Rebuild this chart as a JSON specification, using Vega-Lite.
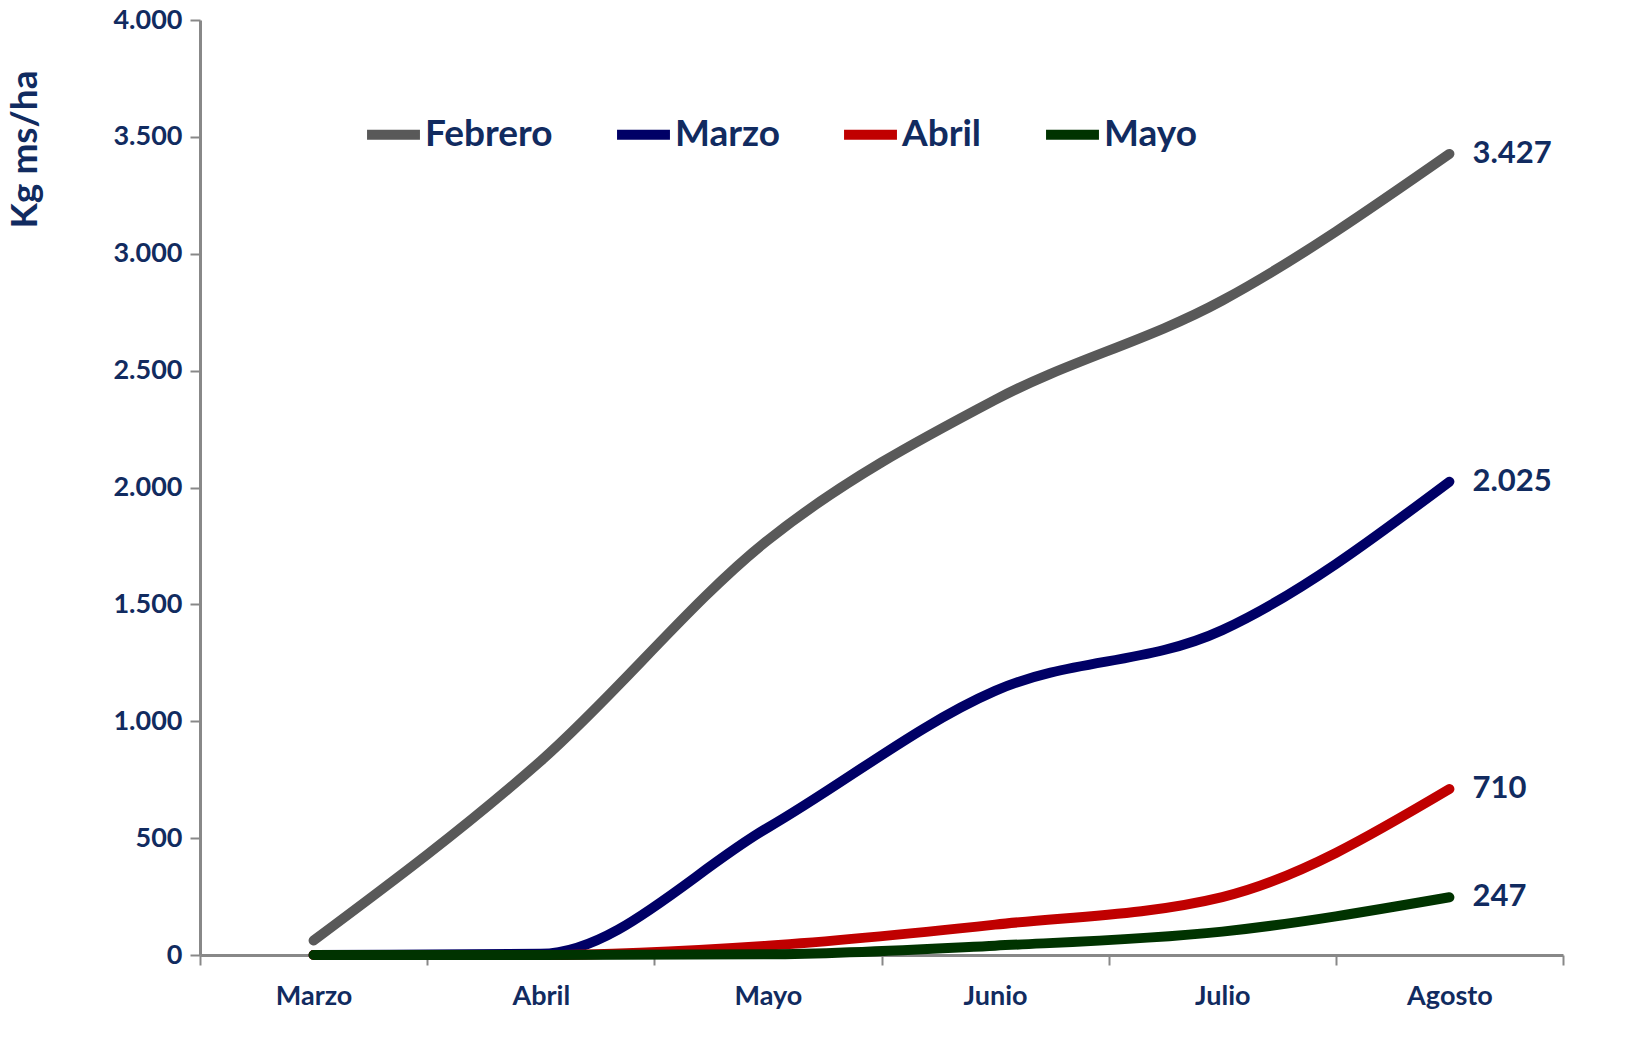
{
  "$schema": "https://vega.github.io/schema/vega-lite/v6.json",
  "width": 1363,
  "height": 935,
  "autosize": "none",
  "padding": {"left": 200, "top": 20, "right": 89, "bottom": 108},
  "background": "white",
  "data": {
    "values": [
      {"serie": "Febrero", "mes": "Marzo", "kg": 62},
      {"serie": "Febrero", "mes": "Abril", "kg": 830},
      {"serie": "Febrero", "mes": "Mayo", "kg": 1775},
      {"serie": "Febrero", "mes": "Junio", "kg": 2375},
      {"serie": "Febrero", "mes": "Julio", "kg": 2800},
      {"serie": "Febrero", "mes": "Agosto", "kg": 3427},
      {"serie": "Marzo", "mes": "Marzo", "kg": 0},
      {"serie": "Marzo", "mes": "Abril", "kg": 5},
      {"serie": "Marzo", "mes": "Mayo", "kg": 545},
      {"serie": "Marzo", "mes": "Junio", "kg": 1130},
      {"serie": "Marzo", "mes": "Julio", "kg": 1390},
      {"serie": "Marzo", "mes": "Agosto", "kg": 2025},
      {"serie": "Abril", "mes": "Marzo", "kg": 0},
      {"serie": "Abril", "mes": "Abril", "kg": 0},
      {"serie": "Abril", "mes": "Mayo", "kg": 40},
      {"serie": "Abril", "mes": "Junio", "kg": 130},
      {"serie": "Abril", "mes": "Julio", "kg": 248},
      {"serie": "Abril", "mes": "Agosto", "kg": 710},
      {"serie": "Mayo", "mes": "Marzo", "kg": 0},
      {"serie": "Mayo", "mes": "Abril", "kg": 0},
      {"serie": "Mayo", "mes": "Mayo", "kg": 3},
      {"serie": "Mayo", "mes": "Junio", "kg": 40},
      {"serie": "Mayo", "mes": "Julio", "kg": 100},
      {"serie": "Mayo", "mes": "Agosto", "kg": 247}
    ]
  },
  "encoding": {
    "x": {
      "field": "mes",
      "type": "nominal",
      "sort": ["Marzo", "Abril", "Mayo", "Junio", "Julio", "Agosto"],
      "scale": {"type": "band", "paddingInner": 0, "paddingOuter": 0},
      "bandPosition": 0.5,
      "axis": {
        "title": null,
        "labelAngle": 0,
        "tickBand": "extent",
        "tickSize": 10,
        "labelPadding": 18
      }
    },
    "y": {
      "field": "kg",
      "type": "quantitative",
      "scale": {"domain": [0, 4000], "nice": false},
      "axis": {
        "title": "Kg ms/ha",
        "values": [0, 500, 1000, 1500, 2000, 2500, 3000, 3500, 4000],
        "format": ",.0f",
        "tickSize": 10,
        "labelPadding": 8,
        "titleFontSize": 37,
        "titleAngle": 270,
        "titleX": -175,
        "titleY": 129,
        "titleAlign": "center",
        "titleBaseline": "middle"
      }
    }
  },
  "layer": [
    {
      "mark": {"type": "line", "interpolate": "monotone", "strokeWidth": 10, "strokeCap": "round", "strokeJoin": "round"},
      "encoding": {
        "color": {
          "field": "serie",
          "type": "nominal",
          "sort": ["Febrero", "Marzo", "Abril", "Mayo"],
          "scale": {
            "domain": ["Febrero", "Marzo", "Abril", "Mayo"],
            "range": ["#595959", "#000066", "#C00000", "#003300"]
          },
          "legend": {
            "title": null,
            "orient": "none",
            "direction": "horizontal",
            "legendX": 162,
            "legendY": 83,
            "symbolType": "stroke",
            "symbolSize": 2800,
            "symbolStrokeWidth": 10,
            "labelFontSize": 37,
            "labelOffset": 0,
            "columnPadding": 44
          }
        }
      }
    },
    {
      "transform": [{"filter": "datum.mes === 'Agosto'"}],
      "mark": {"type": "text", "align": "left", "baseline": "middle", "dx": 23, "fontSize": 31, "fontWeight": "bold", "font": "Lato", "color": "#112B60"},
      "encoding": {
        "text": {"field": "kg", "type": "quantitative", "format": ",.0f"}
      }
    }
  ],
  "config": {
    "locale": {
      "number": {"decimal": ",", "thousands": ".", "grouping": [3], "currency": ["", " €"]}
    },
    "view": {"stroke": null},
    "font": "Lato",
    "axis": {
      "grid": false,
      "domainColor": "#888888",
      "domainWidth": 3,
      "tickColor": "#888888",
      "tickWidth": 2,
      "labelFont": "Lato",
      "labelFontSize": 27,
      "labelFontWeight": "bold",
      "labelColor": "#112B60",
      "titleFont": "Lato",
      "titleFontWeight": "bold",
      "titleColor": "#112B60"
    },
    "legend": {
      "labelFont": "Lato",
      "labelFontWeight": "bold",
      "labelColor": "#112B60"
    }
  }
}
